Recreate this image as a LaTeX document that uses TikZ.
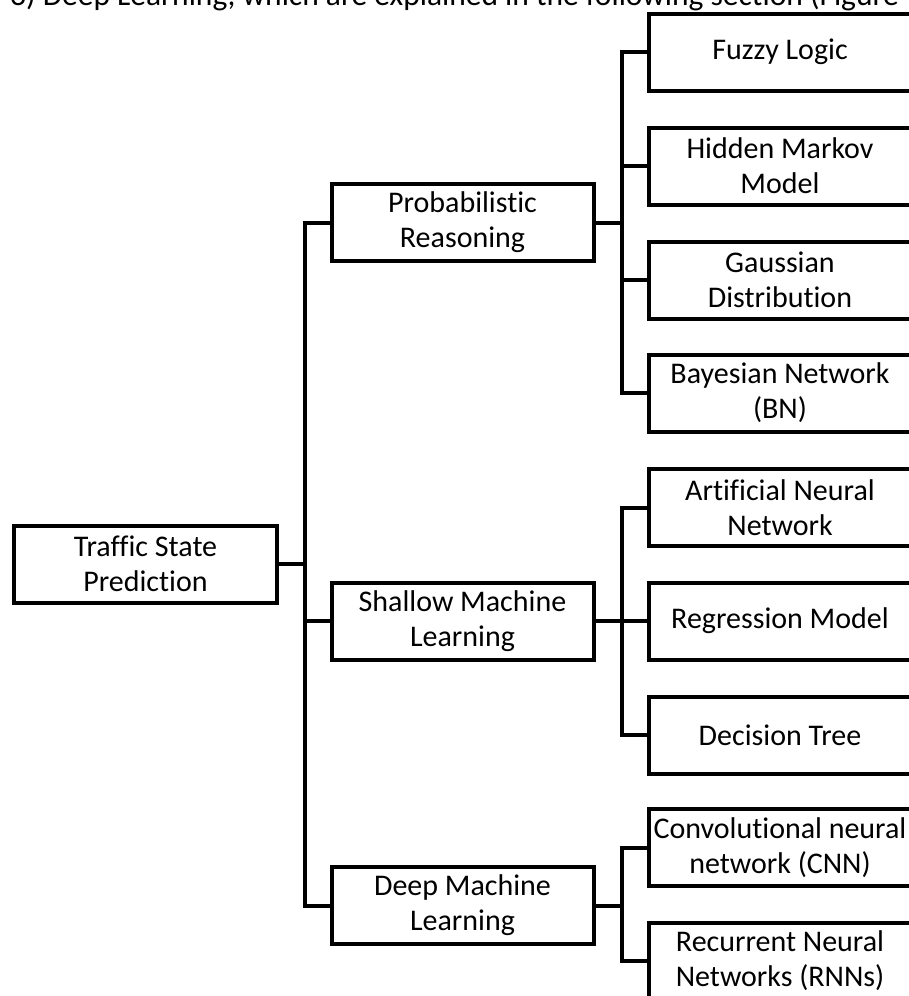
\documentclass[tikz,border=0pt]{standalone}
\usepackage{fontspec}
\setmainfont{Carlito}[Ligatures=NoCommon]
\usepackage{tikz}

\tikzset{
	box/.style={draw=black,line width=4pt,align=center,inner sep=0pt,
		minimum width=262pt,minimum height=77pt,font=\fontsize{30}{35}\selectfont},
	leaf/.style={box},
	link/.style={draw=black,line width=4pt}
}

\begin{document}
\begin{tikzpicture}[x=1pt,y=-1pt]
\useasboundingbox (0,0) rectangle (909,996);
\clip (0,0) rectangle (909,996);
\node[anchor=base west,inner sep=0pt,font=\fontsize{31.5}{38}\selectfont] (bodytext) at (10,5) {3) Deep Learning, which are explained in the following section (Figure};

\node[box,minimum width=263pt] (root) at (145.5,564) {Traffic State\\Prediction};
\node[box] (prob) at (462.5,222.5) {Probabilistic\\Reasoning};
\node[box] (shallow) at (462.5,621) {Shallow Machine\\Learning};
\node[box] (deep) at (462.5,905.5) {Deep Machine\\Learning};

\node[leaf] (fuzzy) at (780,52) {Fuzzy Logic};
\node[leaf] (hmm) at (780,166) {Hidden Markov\\Model};
\node[leaf] (gauss) at (780,280) {Gaussian\\Distribution};
\node[leaf] (bayes) at (780,393) {Bayesian Network\\(BN)};
\node[leaf] (ann) at (780,507.5) {Artificial Neural\\Network};
\node[leaf] (reg) at (780,621) {Regression Model};
\node[leaf] (dtree) at (780,735) {Decision Tree};
\node[leaf] (cnn) at (780,847.5) {Convolutional neural\\network (CNN)};
\node[leaf] (rnn) at (780,961) {Recurrent Neural\\Networks (RNNs)};

\coordinate (trunk) at (305,564);
\coordinate (probfork) at (622,222.5);
\coordinate (shallowfork) at (622,621);
\coordinate (deepfork) at (622,905.5);

\draw[link] (root.east) -- (trunk);
\draw[link] (prob.west) -| (trunk);
\draw[link] (shallow.west) -| (trunk);
\draw[link] (deep.west) -| (trunk);

\draw[link] (prob.east) -- (probfork);
\draw[link] (fuzzy.west) -| (probfork);
\draw[link] (hmm.west) -| (probfork);
\draw[link] (gauss.west) -| (probfork);
\draw[link] (bayes.west) -| (probfork);

\draw[link] (shallow.east) -- (shallowfork);
\draw[link] (ann.west) -| (shallowfork);
\draw[link] (reg.west) -| (shallowfork);
\draw[link] (dtree.west) -| (shallowfork);

\draw[link] (deep.east) -- (deepfork);
\draw[link] (cnn.west) -| (deepfork);
\draw[link] (rnn.west) -| (deepfork);
\end{tikzpicture}
\end{document}
